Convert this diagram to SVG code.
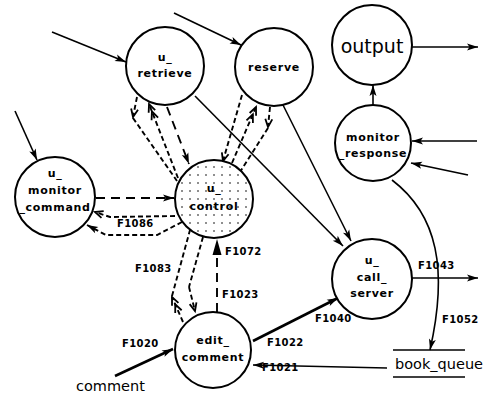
<svg xmlns="http://www.w3.org/2000/svg" width="488" height="394" viewBox="0 0 488 394">
<defs>
<style>
.n{fill:#fff;stroke:#000;stroke-width:2}
.t{font-family:"DejaVu Sans",sans-serif;font-size:11px;font-weight:bold;letter-spacing:0.7px;text-anchor:middle;fill:#000}
.f{font-family:"DejaVu Sans",sans-serif;font-size:10px;font-weight:bold;letter-spacing:0.4px;fill:#000}
.s{fill:none;stroke:#000;stroke-width:1.6}
.th{fill:none;stroke:#000;stroke-width:2.6}
.d{fill:none;stroke:#000;stroke-width:1.9;stroke-dasharray:5 3}
.ld{fill:none;stroke:#000;stroke-width:1.9;stroke-dasharray:9 6}
</style>
<marker id="af" markerUnits="userSpaceOnUse" markerWidth="12" markerHeight="8" refX="11" refY="4" orient="auto" overflow="visible"><path d="M0,0.5 L11,4 L0,7.5 L2.5,4 z" fill="#000"/></marker>
<marker id="afb" markerUnits="userSpaceOnUse" markerWidth="17" markerHeight="10" refX="16" refY="4.5" orient="auto" overflow="visible"><path d="M0,0 L16,4.5 L0,9 z" fill="#000"/></marker>
<marker id="ch" markerUnits="userSpaceOnUse" markerWidth="10" markerHeight="8" refX="9" refY="4" orient="auto" overflow="visible"><path d="M1,0.5 L9,4 L1,7.5" fill="none" stroke="#000" stroke-width="1.8"/></marker>
<marker id="dch" markerUnits="userSpaceOnUse" markerWidth="18" markerHeight="8" refX="17" refY="4" orient="auto" overflow="visible"><path d="M1,0.5 L9,4 L1,7.5 M9,0.5 L17,4 L9,7.5" fill="none" stroke="#000" stroke-width="1.8"/></marker>
<pattern id="dots" patternUnits="userSpaceOnUse" width="8" height="8" x="2" y="3"><circle cx="4" cy="4" r="0.8" fill="#000"/></pattern>
</defs>

<g id="connectors">
<path class="s" d="M52,32 L126,62" marker-end="url(#af)"/>
<path class="s" d="M174,13 L241,45" marker-end="url(#af)"/>
<path class="s" d="M15,111 L37,160" marker-end="url(#af)"/>
<path class="s" d="M412,47 L478,47" marker-end="url(#af)"/>
<path class="s" d="M373,105 L373,85" marker-end="url(#af)"/>
<path class="s" d="M477,141 L412,141" marker-end="url(#af)"/>
<path class="s" d="M468,175 L411,163" marker-end="url(#af)"/>
<path class="s" d="M195,96 L343,246" marker-end="url(#af)"/>
<path class="s" d="M283,105 L351,241" marker-end="url(#af)"/>
<path class="s" d="M412,278 L478,278" marker-end="url(#af)"/>
<path class="s" d="M392,180 C438,215 448,270 430,350" marker-end="url(#af)"/>
<path class="th" d="M253,341 L338,298" marker-end="url(#af)"/>
<path class="s" d="M387,368 L253,365" marker-end="url(#af)"/>
<path class="th" d="M115,376 L173,349" marker-end="url(#af)"/>

<path class="ld" d="M96,198 L174,198" marker-end="url(#af)"/>
<path class="d" d="M175,216 L110,217 L95,212" marker-end="url(#ch)"/>
<path class="d" d="M182,222 L157,235 L106,235 L87,225" marker-end="url(#af)"/>

<path class="d" d="M137,97 L133,117" marker-end="url(#ch)"/>
<path class="d" d="M133,118 L177,181"/>
<path class="d" d="M178,178 L149,104" marker-end="url(#dch)"/>
<path class="ld" d="M167,107 L189,164" marker-end="url(#af)"/>

<path class="d" d="M242,95 L223,161" marker-end="url(#ch)"/>
<path class="d" d="M232,163 L256,107" marker-end="url(#dch)"/>
<path class="d" d="M270,107 L268,127" marker-end="url(#ch)"/>
<path class="d" d="M268,128 L240,172"/>

<path class="d" d="M183,322 L172,297" marker-end="url(#dch)"/>
<path class="d" d="M172,296 L190,230"/>
<path class="d" d="M203,237 L189,287"/>
<path class="d" d="M189,287 L195,311" marker-end="url(#ch)"/>
<path class="ld" d="M217,312 L217,239" marker-end="url(#afb)"/>

<line x1="393" y1="350" x2="465" y2="350" stroke="#000" stroke-width="1.6"/>
<line x1="393" y1="377" x2="465" y2="377" stroke="#000" stroke-width="1.6"/>

<text class="f" x="117" y="227">F1086</text>
<text class="f" x="135" y="272">F1083</text>
<text class="f" x="225" y="255">F1072</text>
<text class="f" x="222" y="298">F1023</text>
<text class="f" x="122" y="347">F1020</text>
<text class="f" x="267" y="346">F1022</text>
<text class="f" x="315" y="322">F1040</text>
<text class="f" x="262" y="371">F1021</text>
<text class="f" x="418" y="269">F1043</text>
<text class="f" x="442" y="323">F1052</text>
</g>

<g id="u_retrieve"><circle class="n" cx="165" cy="66" r="39"/><text class="t" x="165" y="61">u_</text><text class="t" x="165" y="77">retrieve</text></g>
<g id="reserve"><circle class="n" cx="274" cy="67" r="39"/><text class="t" x="274" y="71">reserve</text></g>
<g id="output"><circle class="n" cx="372" cy="45" r="40"/><text x="372" y="53" font-family="DejaVu Sans, sans-serif" font-size="19" text-anchor="middle">output</text></g>
<g id="monitor_response"><circle class="n" cx="373" cy="143" r="38"/><text class="t" x="373" y="141">monitor</text><text class="t" x="373" y="157">_response</text></g>
<g id="u_monitor_command"><circle class="n" cx="55" cy="197" r="40"/><text class="t" x="55" y="177">u_</text><text class="t" x="55" y="194">monitor</text><text class="t" x="55" y="211">_command</text></g>
<g id="u_control"><circle class="n" cx="214" cy="199" r="39"/><circle cx="214" cy="199" r="38" fill="url(#dots)"/><text class="t" x="214" y="192">u_</text><text class="t" x="214" y="210">control</text></g>
<g id="u_call_server"><circle class="n" cx="372" cy="279" r="40"/><text class="t" x="372" y="264">u_</text><text class="t" x="372" y="281">call_</text><text class="t" x="372" y="297">server</text></g>
<g id="edit_comment"><circle class="n" cx="213" cy="350" r="38"/><text class="t" x="213" y="344">edit_</text><text class="t" x="213" y="361">comment</text></g>
<g id="book_queue"><text x="395" y="369" font-family="DejaVu Sans, sans-serif" font-size="14.5">book_queue</text></g>
<g id="comment"><text x="76" y="391" font-family="DejaVu Sans, sans-serif" font-size="14.5">comment</text></g>
</svg>
